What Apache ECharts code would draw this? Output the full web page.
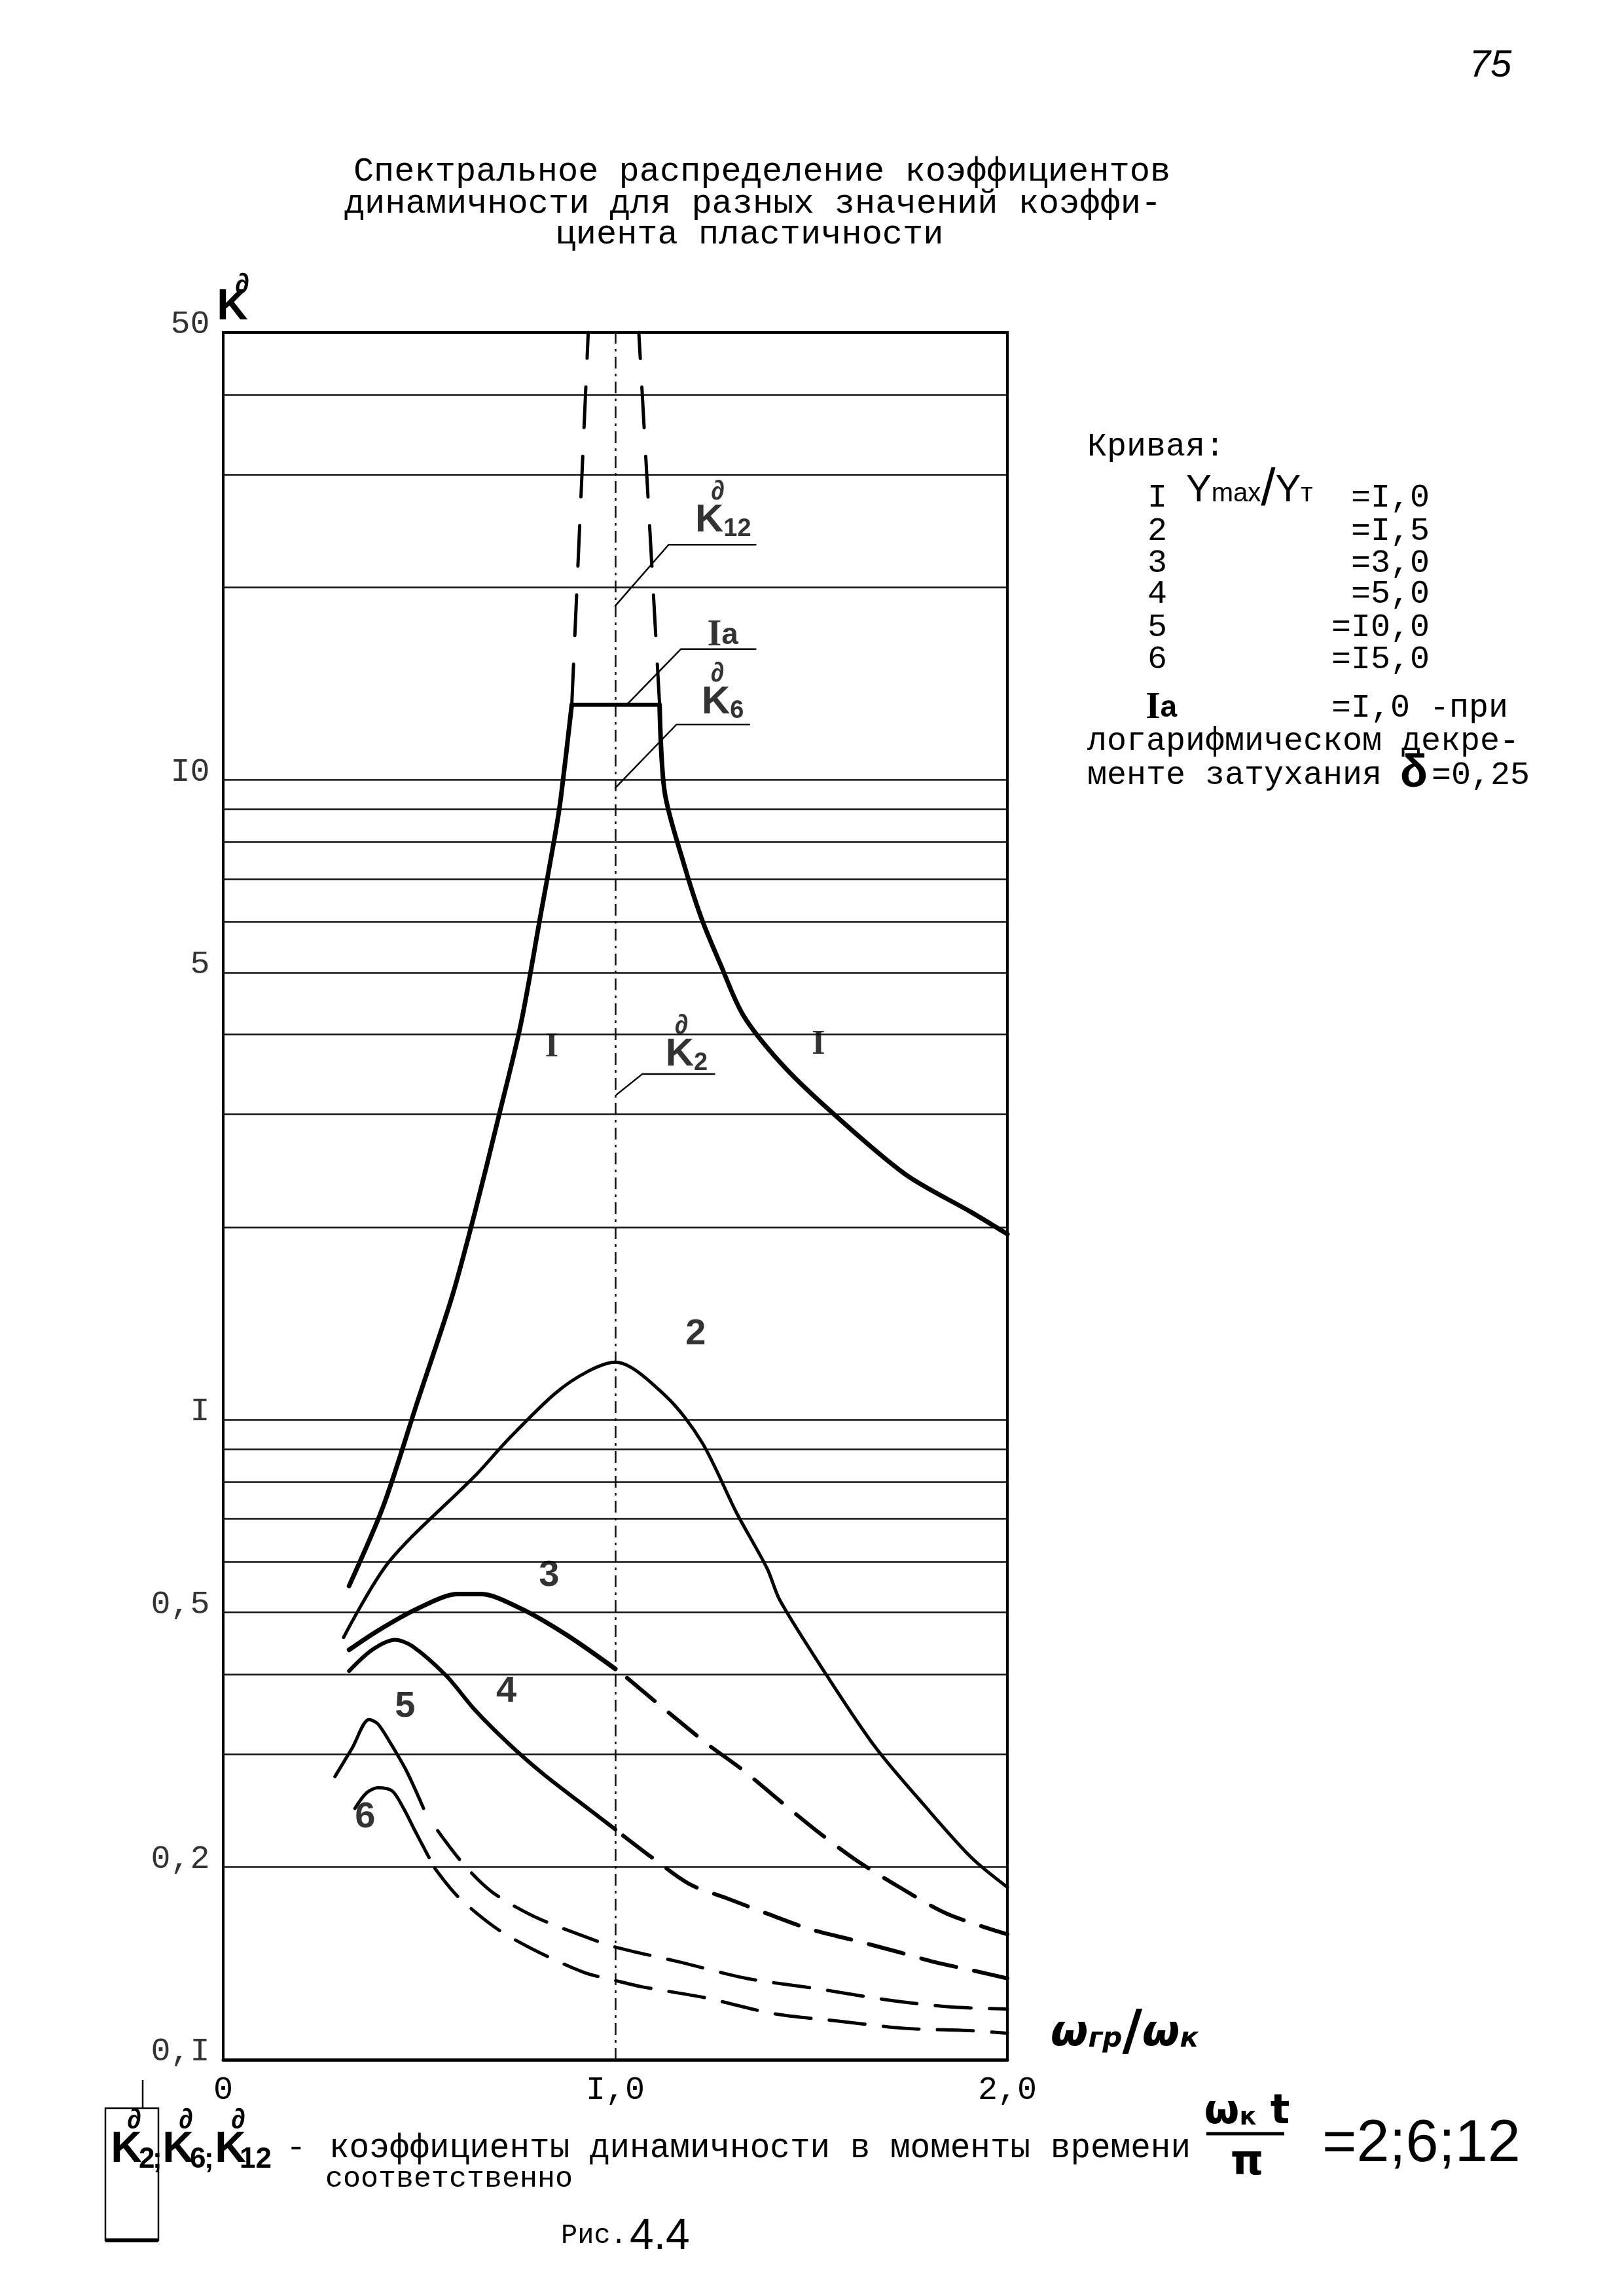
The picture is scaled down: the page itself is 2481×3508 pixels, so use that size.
<!DOCTYPE html>
<html><head><meta charset="utf-8">
<script src="https://cdn.jsdelivr.net/npm/echarts@6/dist/echarts.min.js"></script>
<style>html,body{margin:0;padding:0;background:#fff}#c{width:2481px;height:3508px}</style>
</head><body><div id="c"></div>
<script>
// ---------- data ----------
const xTickValues = [0, 1, 2];
const xTickLabels = ['0', 'I,0', '2,0'];
const yTickValues = [50, 10, 5, 1, 0.5, 0.2, 0.1];
const yTickLabels = ['50', 'I0', '5', 'I', '0,5', '0,2', '0,I'];
const gridValues = [0.2, 0.3, 0.4, 0.5, 0.6, 0.7, 0.8, 0.9, 1, 2, 3, 4, 5, 6, 7, 8, 9, 10, 20, 30, 40];
const centerLineX = 1;

// curve I (Ymax/Yт = 1.0)
const curve1Left = [[0.321,0.55],[0.409,0.735],[0.496,1.07],[0.584,1.56],[0.642,2.11],[0.701,2.95],[0.759,4.15],[0.810,6.17],[0.847,8.24],[0.861,9.36],[0.889,13.1]];
const curve1aTop = [[0.889,13.1],[1.113,13.1]];
const curve1Right = [[1.113,13.1],[1.126,9.56],[1.174,7.42],[1.220,6.07],[1.267,5.17],[1.326,4.29],[1.420,3.62],[1.540,3.07],[1.739,2.42],[1.908,2.11],[2.0,1.95]];
const k12LeftDash = [[0.889,13.1],[0.931,50]];
const k12RightDash = [[1.113,13.1],[1.060,50]];
// curve 2
const curve2 = [[0.307,0.457],[0.423,0.600],[0.642,0.817],[0.730,0.936],[0.847,1.10],[0.93,1.19],[1.0,1.23],[1.128,1.09],[1.221,0.922],[1.310,0.714],[1.387,0.586],[1.420,0.522],[1.540,0.398],[1.663,0.308],[1.785,0.251],[1.908,0.207],[2.0,0.186]];
// curve 3
const curve3Solid = [[0.321,0.437],[0.394,0.468],[0.496,0.507],[0.599,0.534],[0.657,0.534],[0.759,0.507],[0.876,0.461],[1.0,0.408]];
const curve3Dash = [[1.03,0.395],[1.128,0.352],[1.236,0.311],[1.327,0.283],[1.419,0.254],[1.525,0.225],[1.617,0.2045],[1.725,0.186],[1.847,0.169],[2.0,0.157]];
// curve 4
const curve4Solid = [[0.321,0.405],[0.380,0.437],[0.438,0.453],[0.482,0.443],[0.569,0.398],[0.642,0.352],[0.730,0.311],[0.818,0.279],[0.904,0.254],[1.0,0.229]];
const curve4Dash = [[1.02,0.224],[1.098,0.206],[1.190,0.188],[1.282,0.179],[1.389,0.169],[1.496,0.160],[1.603,0.154],[1.710,0.148],[1.817,0.142],[1.909,0.138],[2.0,0.134]];
// curve 5
const curve5Solid = [[0.285,0.277],[0.329,0.307],[0.372,0.340],[0.394,0.335],[0.423,0.315],[0.467,0.283],[0.511,0.247]];
const curve5Dash = [[0.547,0.228],[0.613,0.202],[0.685,0.183],[0.788,0.168],[0.919,0.156],[1.0,0.150],[1.167,0.142],[1.335,0.134],[1.519,0.129],[1.695,0.124],[1.848,0.121],[2.0,0.120]];
// curve 6
const curve6Solid = [[0.336,0.247],[0.365,0.261],[0.394,0.266],[0.431,0.263],[0.460,0.247],[0.489,0.228],[0.525,0.207]];
const curve6Dash = [[0.540,0.199],[0.598,0.180],[0.693,0.161],[0.788,0.149],[0.919,0.137],[1.0,0.133],[1.068,0.130],[1.229,0.125],[1.405,0.118],[1.565,0.115],[1.734,0.112],[1.910,0.111],[2.0,0.110]];

// annotation leaders and labels (data space)
const leaderK12 = [[1.0,18.7],[1.136,23.3],[1.358,23.3]];
const leaderIa = [[1.029,13.1],[1.167,16.0],[1.358,16.0]];
const leaderK6 = [[1.0,9.71],[1.156,12.2],[1.342,12.2]];
const leaderK2 = [[1.003,3.22],[1.069,3.47],[1.253,3.47]];
const kLabelPos = [[1.275,25.4],[1.274,13.2],[1.182,3.72]];
const kLabelSub = ['12', '6', '2'];
const iaLabelPos = [[1.274,16.8]];
const romanLabelPos = [[0.838,3.82],[1.518,3.85]];
const digitLabelText = ['2', '3', '4', '5', '6'];
const digitLabelPos = [[1.205,1.36],[0.831,0.570],[0.722,0.376],[0.464,0.356],[0.362,0.239]];

// ---------- chart ----------
const MONO = '"Liberation Mono", "DejaVu Sans Mono", monospace';
const HAND = '"Liberation Sans", "DejaVu Sans", sans-serif';
const SERIF = '"Liberation Serif", "DejaVu Serif", serif';
const NARROW = '"Liberation Sans Narrow", "Liberation Sans", sans-serif';
const DJ = '"DejaVu Sans", sans-serif';
const chart = echarts.init(document.getElementById('c'), null, {width: 2481, height: 3508});

function curve(name, data, width, dash, smooth) {
  return {type: 'line', name, data, symbol: 'none', showSymbol: false, silent: true, clip: false,
    smooth: smooth === undefined ? 0.3 : smooth, z: 5,
    lineStyle: {color: '#000', width, type: dash || 'solid', cap: 'round', join: 'round'}};
}
function labelSeries(name, items, labelOpt) {
  return {type: 'scatter', name, silent: true, clip: false, symbolSize: 1, z: 8,
    itemStyle: {color: 'rgba(0,0,0,0)'},
    label: Object.assign({show: true, color: '#000'}, labelOpt),
    data: items};
}

const series = [];
series.push({type: 'line', name: 'grid', data: [[0,0.1],[2,0.1]], symbol: 'none', silent: true,
  lineStyle: {opacity: 0},
  markLine: {silent: true, symbol: ['none','none'], label: {show: false}, animation: false,
    lineStyle: {color: '#111', width: 2.5, type: 'solid'},
    data: gridValues.map(v => ({yAxis: v})).concat([{xAxis: centerLineX, lineStyle: {color: '#111', width: 2.5, type: [18, 8, 4, 8]}}])}});

const DASH = [55, 28];
series.push(curve('I', curve1Left, 7));
series.push(curve('Ia', curve1aTop, 6, 'solid', false));
series.push(curve('I', curve1Right, 7));
series.push(curve('K12', k12LeftDash, 5, [62, 44], false));
series.push(curve('K12', k12RightDash, 5, [62, 44], false));
series.push(curve('2', curve2, 5));
series.push(curve('3', curve3Solid, 7));
series.push(curve('3', curve3Dash, 6, DASH));
series.push(curve('4', curve4Solid, 6));
series.push(curve('4', curve4Dash, 6, DASH));
series.push(curve('5', curve5Solid, 5));
series.push(curve('5', curve5Dash, 5, DASH));
series.push(curve('6', curve6Solid, 5));
series.push(curve('6', curve6Dash, 5, DASH));
[leaderK12, leaderIa, leaderK6, leaderK2].forEach(d => series.push(curve('leader', d, 2.5, 'solid', false)));

series.push(labelSeries('yTicks', yTickValues.map((v, i) => ({value: [0, v], label: {formatter: yTickLabels[i]}})),
  {position: 'left', distance: 20, offset: [0, -12], fontFamily: MONO, fontSize: 50}));
series.push(labelSeries('romanLabels', romanLabelPos.map(p => ({value: p, label: {formatter: 'I'}})),
  {position: 'inside', fontFamily: SERIF, fontWeight: 'bold', fontSize: 52}));
series.push(labelSeries('digitLabels', digitLabelPos.map((p, i) => ({value: p, label: {formatter: digitLabelText[i]}})),
  {position: 'inside', fontFamily: HAND, fontWeight: 'bold', fontSize: 56}));
series.push(labelSeries('iaLabel', iaLabelPos.map(p => ({value: p, label: {formatter: '{a|I}{b|a}'}})),
  {position: 'inside', rich: {a: {fontFamily: SERIF, fontWeight: 'bold', fontSize: 56, color: '#000'}, b: {fontFamily: HAND, fontWeight: 'bold', fontSize: 46, color: '#000'}}}));
series.push(labelSeries('kLabels', kLabelPos.map((p, i) => ({value: p, label: {formatter: '{k|K}{s|' + kLabelSub[i] + '}'}})),
  {position: 'inside', rich: {k: {fontFamily: NARROW, fontWeight: 'bold', fontSize: 60, color: '#000'}, s: {fontFamily: NARROW, fontWeight: 'bold', fontSize: 38, color: '#000', padding: [26, 0, 0, 0]}}}));
series.push(labelSeries('kMarks', kLabelPos.map(p => ({value: p, label: {formatter: '∂'}})),
  {position: 'inside', offset: [-8, -44], fontFamily: HAND, fontWeight: 'bold', fontSize: 42}));

// ---------- page texts ----------
const graphics = [];
function txt(x, y, text, st) {
  graphics.push({type: 'text', x, y, silent: true, z: 10,
    style: Object.assign({text, fill: '#000', fontFamily: MONO, fontSize: 51,
      textAlign: 'left', textVerticalAlign: 'middle', align: 'left', verticalAlign: 'middle'}, st || {})});
}
const C = {textAlign: 'center', align: 'center'};
txt(2277, 101, '75', Object.assign({fontFamily: HAND, fontStyle: 'italic', fontSize: 58}, C));
txt(1164, 262, 'Спектральное распределение коэффициентов', Object.assign({fontSize: 52}, C));
txt(1150, 311, 'динамичности для разных значений коэффи-', Object.assign({fontSize: 52}, C));
txt(1145, 358, 'циента пластичности', Object.assign({fontSize: 52}, C));
// y axis name
txt(355, 470, 'K', Object.assign({fontFamily: NARROW, fontWeight: 'bold', fontSize: 66}, C));
txt(370, 436, '∂', Object.assign({fontFamily: HAND, fontWeight: 'bold', fontSize: 44}, C));
// x axis name
txt(1718, 3108, '{a|ω}{b|гр}{c|/}{a|ω}{b|к}', Object.assign({rich: {
  a: {fontFamily: DJ, fontStyle: 'italic', fontWeight: 'bold', fontSize: 66, fill: '#000'},
  b: {fontFamily: DJ, fontStyle: 'italic', fontWeight: 'bold', fontSize: 42, fill: '#000', padding: [16, 0, 0, 0]},
  c: {fontFamily: DJ, fontWeight: 'bold', fontSize: 84, fill: '#000'}}}, C));
// legend block
txt(1661, 683, 'Кривая:', {fontSize: 50});
const legNums = ['I', '2', '3', '4', '5', '6'];
const legVals = ['=I,0', '=I,5', '=3,0', '=5,0', '=I0,0', '=I5,0'];
const legY = [761, 812, 861, 908, 959, 1008];
legNums.forEach((n, i) => {
  txt(1753, legY[i], n, {fontSize: 50});
  txt(2184, legY[i], legVals[i], {fontSize: 50, textAlign: 'right', align: 'right'});
});
txt(1812, 750, '{a|Y}{b|max}{c|/}{a|Y}{b|т}', {rich: {
  a: {fontFamily: HAND, fontSize: 58, fill: '#000'},
  b: {fontFamily: HAND, fontSize: 40, fill: '#000', padding: [10, 0, 0, 0]},
  c: {fontFamily: HAND, fontSize: 80, fill: '#000'}}});
txt(1750, 1082, '{a|I}{b|a}', {rich: {
  a: {fontFamily: SERIF, fontWeight: 'bold', fontSize: 58, fill: '#000'},
  b: {fontFamily: HAND, fontWeight: 'bold', fontSize: 46, fill: '#000'}}});
txt(2034, 1082, '=I,0 -при', {fontSize: 50});
txt(1661, 1133, 'логарифмическом декре-', {fontSize: 50});
txt(1661, 1185, 'менте затухания', {fontSize: 50});
txt(2160, 1183, 'δ', Object.assign({fontFamily: HAND, fontWeight: 'bold', fontSize: 70}, C));
txt(2187, 1185, '=0,25', {fontSize: 50});
// bottom caption
const kCap = [[193, 212, '2'], [272, 290, '6'], [352, 366, '12']];
kCap.forEach(([xk, xs, s]) => {
  txt(xk, 3285, 'K', Object.assign({fontFamily: NARROW, fontWeight: 'bold', fontSize: 66}, C));
  txt(xk + 12, 3240, '∂', Object.assign({fontFamily: HAND, fontWeight: 'bold', fontSize: 44}, C));
  txt(xs, 3300, s, {fontFamily: NARROW, fontWeight: 'bold', fontSize: 44});
});
txt(233, 3300, ';', {fontFamily: HAND, fontWeight: 'bold', fontSize: 44});
txt(312, 3300, ';', {fontFamily: HAND, fontWeight: 'bold', fontSize: 44});
txt(437, 3282, '-', {fontSize: 51});
txt(503, 3282, 'коэффициенты динамичности в моменты времени', {fontSize: 51});
txt(497, 3329, 'соответственно', {fontSize: 45});
txt(857, 3416, 'Рис.', {fontSize: 42});
txt(962, 3418, '4.4', {fontFamily: HAND, fontSize: 66});
txt(1905, 3228, '{a|ω}{b|к}{a| t}', Object.assign({rich: {
  a: {fontFamily: DJ, fontWeight: 'bold', fontSize: 62, fill: '#000'},
  b: {fontFamily: DJ, fontWeight: 'bold', fontSize: 38, fill: '#000', padding: [16, 0, 0, 0]}}}, C));
txt(1905, 3305, 'π', Object.assign({fontFamily: DJ, fontWeight: 'bold', fontSize: 64}, C));
txt(2020, 3277, '=2;6;12', {fontFamily: NARROW, fontSize: 90});
graphics.push({type: 'line', silent: true, shape: {x1: 1843, y1: 3260, x2: 1962, y2: 3260}, style: {stroke: '#000', lineWidth: 5}});
// box on the left
graphics.push({type: 'rect', silent: true, shape: {x: 161, y: 3221, width: 81, height: 202}, style: {stroke: '#000', fill: 'none', lineWidth: 2.5}});
graphics.push({type: 'line', silent: true, shape: {x1: 161, y1: 3423, x2: 242, y2: 3423}, style: {stroke: '#000', lineWidth: 6}});
graphics.push({type: 'line', silent: true, shape: {x1: 218, y1: 3178, x2: 218, y2: 3221}, style: {stroke: '#000', lineWidth: 2.5}});

chart.setOption({
  animation: false,
  backgroundColor: '#fff',
  grid: {left: 341, top: 508, width: 1198, height: 2639, show: true, borderColor: '#000', borderWidth: 4, backgroundColor: 'transparent'},
  xAxis: {type: 'value', min: 0, max: 2, interval: 1,
    axisLine: {show: true, onZero: false, lineStyle: {color: '#000', width: 5}},
    axisTick: {show: false}, splitLine: {show: false},
    axisLabel: {margin: 22, fontFamily: MONO, fontSize: 50, color: '#000',
      formatter: v => { const i = xTickValues.indexOf(v); return i >= 0 ? xTickLabels[i] : ''; }}},
  yAxis: {type: 'log', logBase: 10, min: 0.1, max: 50,
    axisLine: {show: true, onZero: false, lineStyle: {color: '#000', width: 4}},
    axisTick: {show: false}, axisLabel: {show: false}, splitLine: {show: false}, minorSplitLine: {show: false}},
  series,
  graphic: graphics
});
</script></body></html>
